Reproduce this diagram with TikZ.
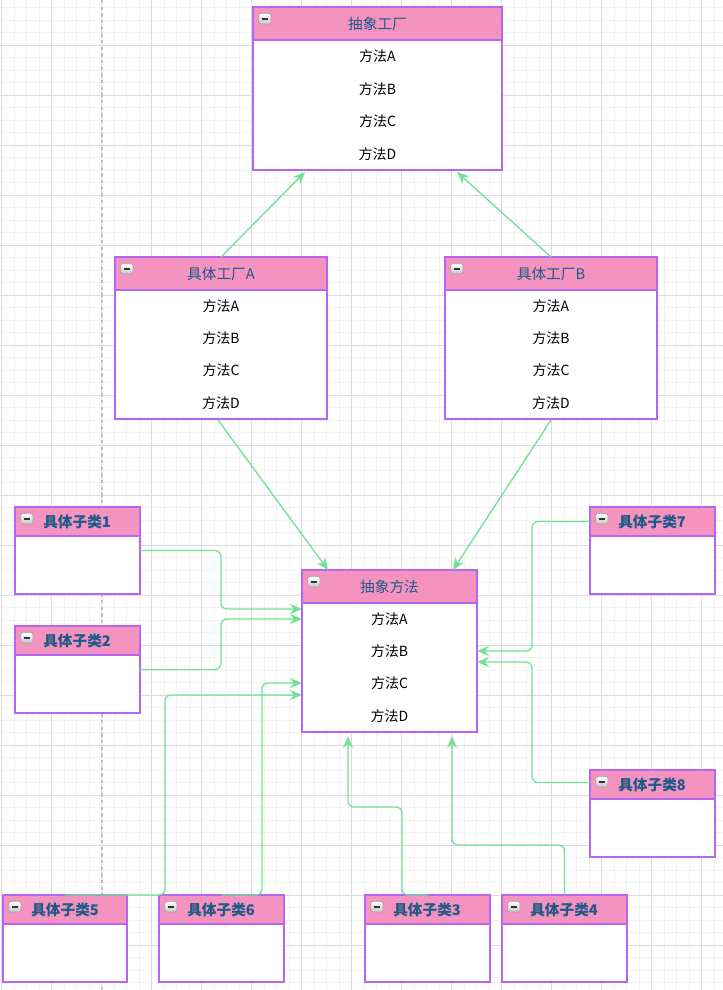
\documentclass[tikz,border=0pt]{standalone}
\usepackage{fontspec}
\setmainfont{Noto Sans CJK SC}
\usetikzlibrary{arrows.meta,calc}
\definecolor{bord}{RGB}{182,102,240}
\definecolor{headfill}{RGB}{244,146,192}
\definecolor{conncol}{RGB}{112,226,152}
\definecolor{titlecol}{RGB}{30,90,135}
\definecolor{gridminor}{RGB}{242,242,242}
\definecolor{gridmajor}{RGB}{220,220,220}
\definecolor{dashcol}{RGB}{195,195,195}
\tikzset{
  frame/.style={draw=bord,fill=white,line width=1.1pt,inner sep=0pt,outer sep=0pt},
  head/.style={draw=bord,fill=headfill,line width=1.1pt,inner sep=0pt,outer sep=0pt},
  iconbox/.style={draw=gray!75,top color=white,bottom color=gray!45,rounded corners=1.2pt,
    minimum width=9pt,minimum height=8pt,inner sep=0pt,line width=0.5pt,
    path picture={\draw[line width=1.3pt,black!80]
      ([xshift=2pt]path picture bounding box.west) -- ([xshift=-2pt]path picture bounding box.east);}},
  titletext/.style={text=titlecol,font=\fontsize{11pt}{13pt}\selectfont,inner sep=0pt},
  subtitle/.style={text=titlecol,font=\fontsize{11pt}{13pt}\selectfont\bfseries,inner sep=0pt},
  rowtext/.style={text=black,font=\fontsize{10.5pt}{12pt}\selectfont,inner sep=0pt},
  conn/.style={draw=conncol,line width=1pt,rounded corners=4.5pt,
    -{Stealth[length=9pt,width=7.5pt,inset=3pt]}},
  connplain/.style={draw=conncol,line width=1pt,
    -{Stealth[length=9pt,width=7.5pt,inset=3pt]}},
}
% name, x, y, w, h, header h
\newcommand\classbox[6]{%
  \node[frame,anchor=north west,minimum width={#4*0.75pt},minimum height={#5*0.75pt}] (#1) at (#2,#3) {};
  \node[head,anchor=north west,minimum width={#4*0.75pt},minimum height={#6*0.75pt}] (#1h) at (#1.north west) {};
  \node[iconbox,anchor=north west] (#1i) at ($(#1.north west)+(5.5,6)$) {};
}
% factory box rows: name, body top y, body height, x center
\newcommand\fourrows[4]{%
  \node[rowtext] (#1r1) at (#4,{#2+0.125*#3}) {方法A};
  \node[rowtext] (#1r2) at (#4,{#2+0.375*#3}) {方法B};
  \node[rowtext] (#1r3) at (#4,{#2+0.625*#3}) {方法C};
  \node[rowtext] (#1r4) at (#4,{#2+0.875*#3}) {方法D};
}
\begin{document}
\begin{tikzpicture}[x=0.75pt,y=-0.75pt]
\useasboundingbox (0,0) rectangle (723,990);
\fill[white] (0,0) rectangle (723,990);
% grid
\foreach \i in {0,...,58} \draw[gridminor,line width=0.75pt] ({1.7+12.5*\i},0) -- ++(0,990);
\foreach \i in {0,...,79} \draw[gridminor,line width=0.75pt] (0,{7.5+12.5*\i}) -- ++(723,0);
\foreach \i in {0,...,14} \draw[gridmajor,line width=0.75pt] ({1.7+50*\i},0) -- ++(0,990);
\foreach \i in {1,...,20} \draw[gridmajor,line width=0.75pt] (0,{-5+50*\i}) -- ++(723,0);
\draw[dashcol,line width=1pt,dash pattern=on 2.5pt off 2.5pt] (102,0) -- (102,990);

% boxes
\classbox{af}{253}{7}{249}{163}{33}
\node[titletext] (aft) at (afh.center) {抽象工厂};
\fourrows{af}{40}{130}{377.5}

\classbox{fa}{115}{257}{212}{162}{33}
\node[titletext] (fat) at (fah.center) {具体工厂A};
\fourrows{fa}{290}{129}{221}

\classbox{fb}{445}{257}{212}{162}{33}
\node[titletext] (fbt) at (fbh.center) {具体工厂B};
\fourrows{fb}{290}{129}{551}

\classbox{am}{302}{570}{175}{162}{33}
\node[titletext] (amt) at (amh.center) {抽象方法};
\fourrows{am}{603}{129}{389.5}

\classbox{sa}{15}{507}{125}{87}{29}
\node[subtitle,anchor=west] (sat) at ($(sah.west)+(28,0)$) {具体子类1};
\classbox{sb}{15}{626}{125}{87}{29}
\node[subtitle,anchor=west] (sbt) at ($(sbh.west)+(28,0)$) {具体子类2};
\classbox{sc}{365}{895}{125}{87}{29}
\node[subtitle,anchor=west] (sct) at ($(sch.west)+(28,0)$) {具体子类3};
\classbox{sd}{502}{895}{125}{87}{29}
\node[subtitle,anchor=west] (sdt) at ($(sdh.west)+(28,0)$) {具体子类4};
\classbox{se}{3}{895}{124}{87}{29}
\node[subtitle,anchor=west] (set) at ($(seh.west)+(28,0)$) {具体子类5};
\classbox{sf}{159}{895}{125}{87}{29}
\node[subtitle,anchor=west] (sft) at ($(sfh.west)+(28,0)$) {具体子类6};
\classbox{sg}{590}{507}{125}{87}{29}
\node[subtitle,anchor=west] (sgt) at ($(sgh.west)+(28,0)$) {具体子类7};
\classbox{sh}{590}{770}{125}{87}{29}
\node[subtitle,anchor=west] (sht) at ($(shh.west)+(28,0)$) {具体子类8};

% target points
\coordinate (afB1) at (305,172);
\coordinate (afB2) at (457,172);
\coordinate (amT1) at (328,570);
\coordinate (amT2) at (453,570);
\coordinate (amL1) at (302,609);
\coordinate (amL2) at (302,619);
\coordinate (amL3) at (302,683);
\coordinate (amL4) at (302,695);
\coordinate (amR1) at (477,651);
\coordinate (amR2) at (477,662);
\coordinate (amD1) at (348,736);
\coordinate (amD2) at (452,736);

% connectors
\draw[connplain] (fa.north) -- (afB1);
\draw[connplain] (fb.north) -- (afB2);
\draw[connplain] ($(fa.south)+(-3,1)$) -- (amT1);
\draw[connplain] ($(fb.south)+(0,1)$) -- (amT2);
\draw[conn] (sa.east) -| ($(sa.east)!0.5!(amL1)$) |- (amL1);
\draw[conn] (sb.east) -| ($(sb.east)!0.5!(amL2)$) |- (amL2);
\draw[conn] (se.north) -- ++(100,0) |- (amL4);
\draw[conn] (sf.north) -- ++(40.5,0) |- (amL3);
\draw[conn] (sc.north) -- ++(-25.5,0) -- ++(0,-88) -| (amD1);
\draw[conn] (sd.north) -- ++(0,-50) -| (amD2);
\draw[conn] (sgh.west) -- ++(-58,0) |- (amR1);
\draw[conn] ($(shh.west)+(0,-2)$) -- ++(-58,0) |- (amR2);
\end{tikzpicture}
\end{document}
